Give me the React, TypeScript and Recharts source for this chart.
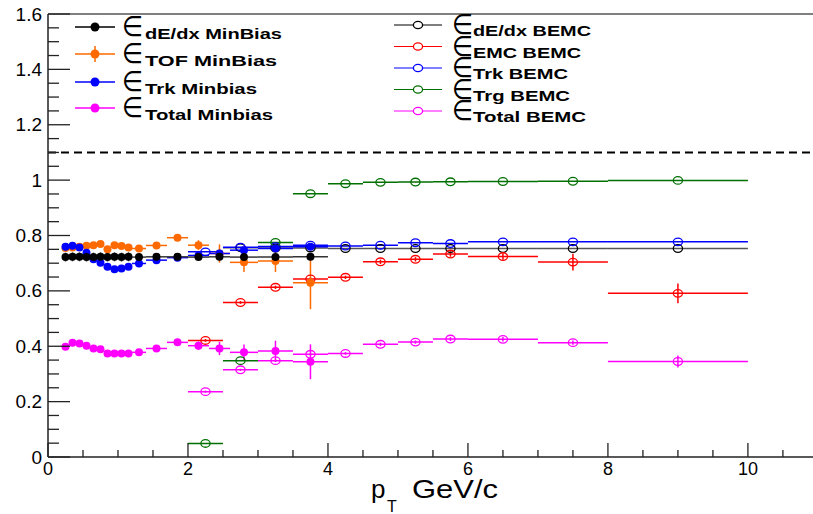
import React from "react"
import {
  ScatterChart,
  Scatter,
  XAxis,
  YAxis,
  ErrorBar,
  ReferenceLine,
} from "recharts"

// MinBias bins (pT centre, half bin width)
const mbPt = [0.25, 0.35, 0.45, 0.55, 0.65, 0.75, 0.85, 0.95, 1.05, 1.15, 1.3, 1.55, 1.85, 2.15, 2.45, 2.8, 3.25, 3.75]
const mbHalf = [0.05, 0.05, 0.05, 0.05, 0.05, 0.05, 0.05, 0.05, 0.05, 0.05, 0.1, 0.15, 0.15, 0.15, 0.15, 0.2, 0.25, 0.25]

const dedxMb = [0.722, 0.723, 0.723, 0.722, 0.722, 0.723, 0.722, 0.723, 0.722, 0.723, 0.722, 0.723, 0.723, 0.722, 0.723, 0.722, 0.722, 0.723]
const dedxMbErr = [0.016, 0.016, 0.016, 0.016, 0.016, 0.016, 0.016, 0.016, 0.016, 0.016, 0.012, 0.01, 0.01, 0.012, 0.014, 0.012, 0.012, 0.012]

const tofMb = [0.755, 0.757, 0.759, 0.763, 0.765, 0.769, 0.75, 0.765, 0.762, 0.757, 0.753, 0.764, 0.792, 0.765, 0.735, 0.703, 0.708, 0.629]
const tofMbErr = [0.005, 0.005, 0.005, 0.005, 0.006, 0.006, 0.006, 0.006, 0.007, 0.007, 0.008, 0.01, 0.012, 0.018, 0.033, 0.035, 0.04, 0.095]

const trkMb = [0.759, 0.763, 0.757, 0.738, 0.714, 0.702, 0.687, 0.678, 0.681, 0.687, 0.699, 0.711, 0.72, 0.728, 0.735, 0.747, 0.753, 0.759]
const trkMbErr = [0.004, 0.004, 0.004, 0.004, 0.004, 0.004, 0.004, 0.004, 0.004, 0.004, 0.004, 0.005, 0.005, 0.006, 0.006, 0.006, 0.007, 0.008]

const totMb = [0.398, 0.413, 0.41, 0.402, 0.392, 0.389, 0.374, 0.374, 0.374, 0.374, 0.378, 0.392, 0.414, 0.402, 0.392, 0.378, 0.383, 0.344]
const totMbErr = [0.004, 0.004, 0.004, 0.004, 0.004, 0.004, 0.004, 0.004, 0.004, 0.004, 0.005, 0.006, 0.008, 0.015, 0.024, 0.028, 0.037, 0.063]

// BEMC bins
const bePt = [2.25, 2.75, 3.25, 3.75, 4.25, 4.75, 5.25, 5.75, 6.5, 7.5, 9]
const beHalf = [0.25, 0.25, 0.25, 0.25, 0.25, 0.25, 0.25, 0.25, 0.5, 0.5, 1]

const dedxBe = [null, 0.756, 0.755, 0.755, 0.753, 0.753, 0.753, 0.753, 0.753, 0.753, 0.753]
const emcBe = [0.421, 0.558, 0.613, 0.643, 0.649, 0.705, 0.714, 0.733, 0.724, 0.704, 0.591]
const emcBeErr = [0.005, 0.005, 0.006, 0.006, 0.006, 0.008, 0.008, 0.01, 0.012, 0.03, 0.036]
const trkBe = [0.741, 0.758, 0.76, 0.765, 0.762, 0.765, 0.774, 0.771, 0.777, 0.777, 0.777]
const trgBe = [0.049, 0.348, 0.775, 0.951, 0.987, 0.992, 0.993, 0.994, 0.995, 0.996, 0.999]
const totBe = [0.236, 0.315, 0.348, 0.371, 0.374, 0.407, 0.415, 0.426, 0.425, 0.413, 0.345]
const totBeErr = [0.004, 0.004, 0.005, 0.005, 0.005, 0.006, 0.006, 0.007, 0.008, 0.008, 0.022]

const xTicks = [0, 0.5, 1, 1.5, 2, 2.5, 3, 3.5, 4, 4.5, 5, 5.5, 6, 6.5, 7, 7.5, 8, 8.5, 9, 9.5, 10, 10.5]
const yTicks = [0, 0.05, 0.1, 0.15, 0.2, 0.25, 0.3, 0.35, 0.4, 0.45, 0.5, 0.55, 0.6, 0.65, 0.7, 0.75, 0.8, 0.85, 0.9, 0.95, 1, 1.05, 1.1, 1.15, 1.2, 1.25, 1.3, 1.35, 1.4, 1.45, 1.5, 1.55, 1.6]

const C = {
  black: "#000000",
  orange: "#ff6a00",
  blue: "#0000ff",
  magenta: "#ff00ff",
  red: "#ff0000",
  green: "#007000",
}

const FONT = "'Liberation Sans', Arial, sans-serif"

type Pt = { x: number; y: number; ex: number; ey: number }

const build = (xs: number[], half: number[], ys: (number | null)[], errs?: number[]): Pt[] =>
  xs
    .map((x, i) => ({ x, y: ys[i] as number, ex: half[i], ey: errs ? errs[i] : 0 }))
    .filter((p) => p.y !== null)

const filled = (color: string) => (p: any) => <circle cx={p.cx} cy={p.cy} r={4} fill={color} />
const open = (color: string) => (p: any) => (
  <ellipse cx={p.cx} cy={p.cy} rx={4.6} ry={3.8} fill="none" stroke={color} strokeWidth={1.3} />
)

const XTick = (props: any) => {
  const { x, y, payload } = props
  const v = payload.value as number
  const major = v % 2 === 0
  return (
    <g>
      <line x1={x} x2={x} y1={y} y2={y - (major ? 14 : 7)} stroke="#222" strokeWidth={1.3} />
      {major && (
        <text x={x} y={y + 18} textAnchor="middle" fontSize={18} fontFamily={FONT} fill="#000">
          {v}
        </text>
      )}
    </g>
  )
}

const YTick = (props: any) => {
  const { x, y, payload } = props
  const v = payload.value as number
  const major = Math.abs(v * 5 - Math.round(v * 5)) < 1e-6
  return (
    <g>
      <line x1={x} x2={x + (major ? 22 : 11)} y1={y} y2={y} stroke="#222" strokeWidth={1.3} />
      {major && (
        <text x={x - 6} y={y + 6.5} textAnchor="end" fontSize={19} fontFamily={FONT} fill="#000">
          {String(v)}
        </text>
      )}
    </g>
  )
}

const series = (
  key: string,
  data: Pt[],
  color: string,
  marker: (p: any) => React.ReactElement,
  lineColor?: string
) => (
  <Scatter key={key} data={data} dataKey="y" shape={marker} isAnimationActive={false}>
    <ErrorBar dataKey="ex" direction="x" width={0} stroke={lineColor || color} strokeWidth={1.5} isAnimationActive={false} />
    <ErrorBar dataKey="ey" direction="y" width={0} stroke={lineColor || color} strokeWidth={1.5} isAnimationActive={false} />
  </Scatter>
)

const leftLegend = [
  { y: 27, label: "dE/dx MinBias", w: 137, color: C.black, err: false },
  { y: 54, label: "TOF MinBias", w: 132, color: C.orange, err: true },
  { y: 82, label: "Trk Minbias", w: 112, color: C.blue, err: false },
  { y: 108, label: "Total Minbias", w: 128, color: C.magenta, err: false },
]

const rightLegend = [
  { y: 25, label: "dE/dx BEMC", w: 118, color: C.black },
  { y: 46.5, label: "EMC BEMC", w: 108, color: C.red },
  { y: 68, label: "Trk BEMC", w: 95, color: C.blue },
  { y: 89.5, label: "Trg BEMC", w: 97, color: C.green },
  { y: 111, label: "Total BEMC", w: 113, color: C.magenta },
]

export default function App() {
  return (
    <div style={{ position: "absolute", left: 0, top: 0, width: 813, height: 514, background: "#fff" }}>
      <ScatterChart width={813} height={514} margin={{ top: 14, right: 0, bottom: 0, left: 0 }}>
        <XAxis
          type="number"
          dataKey="x"
          domain={[0, 10.93]}
          allowDataOverflow
          ticks={xTicks}
          interval={0}
          height={57}
          tickSize={0}
          tickMargin={0}
          tick={<XTick />}
          axisLine={{ stroke: "#222", strokeWidth: 1.5 }}
        />
        <YAxis
          type="number"
          dataKey="y"
          domain={[0, 1.6]}
          allowDataOverflow
          ticks={yTicks}
          interval={0}
          width={48}
          tickSize={0}
          tickMargin={0}
          tick={<YTick />}
          axisLine={{ stroke: "#222", strokeWidth: 1.5 }}
        />
        <ReferenceLine y={1.6} stroke="#555" strokeWidth={1.5} />
        <ReferenceLine y={1.1} stroke="#000" strokeWidth={2} strokeDasharray="8 5" />

        {series("dedxBe", build(bePt, beHalf, dedxBe), C.black, open(C.black), "#555")}
        {series("emcBe", build(bePt, beHalf, emcBe, emcBeErr), C.red, open(C.red))}
        {series("trkBe", build(bePt, beHalf, trkBe), C.blue, open(C.blue))}
        {series("trgBe", build(bePt, beHalf, trgBe), C.green, open(C.green))}
        {series("totBe", build(bePt, beHalf, totBe, totBeErr), C.magenta, open(C.magenta))}

        {series("tofMb", build(mbPt, mbHalf, tofMb, tofMbErr), C.orange, filled(C.orange))}
        {series("totMb", build(mbPt, mbHalf, totMb, totMbErr), C.magenta, filled(C.magenta))}
        {series("trkMb", build(mbPt, mbHalf, trkMb, trkMbErr), C.blue, filled(C.blue))}
        {series("dedxMb", build(mbPt, mbHalf, dedxMb, dedxMbErr), C.black, filled(C.black), "#333")}
      </ScatterChart>

      <svg
        width={813}
        height={514}
        style={{ position: "absolute", left: 0, top: 0, pointerEvents: "none" }}
      >
        {leftLegend.map((e) => (
          <g key={e.label}>
            <line x1={75} x2={115} y1={e.y} y2={e.y} stroke={e.color} strokeWidth={1.5} />
            {e.err && <line x1={95} x2={95} y1={e.y - 8} y2={e.y + 8} stroke={e.color} strokeWidth={1.5} />}
            <circle cx={95} cy={e.y} r={4.5} fill={e.color} />
            <text x={122} y={e.y + 9} fontSize={28} fontFamily="'DejaVu Sans', sans-serif" textLength={21} lengthAdjust="spacingAndGlyphs">
              ∈
            </text>
            <text x={145} y={e.y + 12} fontSize={15} fontWeight="bold" fontFamily={FONT} textLength={e.w} lengthAdjust="spacingAndGlyphs">
              {e.label}
            </text>
          </g>
        ))}
        {rightLegend.map((e) => (
          <g key={e.label}>
            <line x1={394} x2={442} y1={e.y} y2={e.y} stroke={e.color} strokeWidth={1.2} />
            <ellipse cx={418} cy={e.y} rx={4.6} ry={3.6} fill="#fff" stroke={e.color} strokeWidth={1.3} />
            <text x={452} y={e.y + 9} fontSize={28} fontFamily="'DejaVu Sans', sans-serif" textLength={21} lengthAdjust="spacingAndGlyphs">
              ∈
            </text>
            <text x={473} y={e.y + 11} fontSize={15} fontWeight="bold" fontFamily={FONT} textLength={e.w} lengthAdjust="spacingAndGlyphs">
              {e.label}
            </text>
          </g>
        ))}
        <text x={371} y={498} fontSize={26} fontFamily={FONT}>p</text>
        <text x={387} y={512} fontSize={16} fontFamily={FONT}>T</text>
        <text x={412} y={498} fontSize={26} fontFamily={FONT} textLength={86} lengthAdjust="spacingAndGlyphs">
          GeV/c
        </text>
      </svg>
    </div>
  )
}
